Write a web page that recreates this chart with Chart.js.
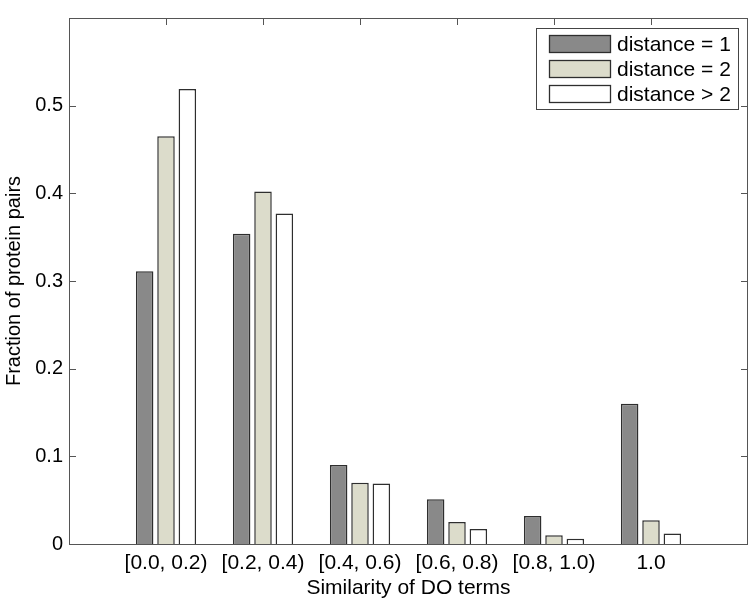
<!DOCTYPE html>
<html>
<head>
<meta charset="utf-8">
<script src="https://cdn.jsdelivr.net/npm/chart.js@4.4.1/dist/chart.umd.min.js"></script>
<style>
    html, body { margin: 0; padding: 0; background: #ffffff; }
    #wrap { width: 755px; height: 606px; }
</style>
</head>
<body>
<div id="wrap"><canvas id="simChart" width="755" height="606"></canvas></div>
<script>
// Fraction of protein pairs per DO-term similarity bin, grouped by network distance
const categories = ['[0.0, 0.2)', '[0.2, 0.4)', '[0.4, 0.6)', '[0.6, 0.8)', '[0.8, 1.0)', '1.0'];
const seriesNames = ['distance = 1', 'distance = 2', 'distance > 2'];
const dist1 = [0.311, 0.354, 0.090, 0.051, 0.032, 0.160];
const dist2 = [0.465, 0.402, 0.070, 0.025, 0.010, 0.027];
const dist3 = [0.519, 0.377, 0.069, 0.017, 0.006, 0.012];
const yTicks = [0, 0.1, 0.2, 0.3, 0.4, 0.5];

const fills = ['#898989', '#dcdccb', '#ffffff'];
const edge = '#2e2e2e';
const axisColor = '#555555';
const fontFamily = '"Liberation Sans", Arial, Helvetica, sans-serif';

// categories sit at x = 1..6 on a 0..7 axis, like a MATLAB bar plot
function toPoints(values) {
    return values.map((v, i) => ({ x: i + 1, y: v }));
}

// Frame and inward tick marks on all four sides
const matlabAxes = {
    id: 'matlabAxes',
    beforeDatasetsDraw(chart) {
        const { ctx, chartArea: a, scales } = chart;
        const len = 7;
        ctx.save();
        ctx.strokeStyle = axisColor;
        ctx.lineWidth = 1;
        ctx.beginPath();
        for (let i = 1; i <= categories.length; i++) {
            const px = Math.round(scales.x.getPixelForValue(i)) + 0.5;
            ctx.moveTo(px, a.bottom); ctx.lineTo(px, a.bottom - len);
            ctx.moveTo(px, a.top); ctx.lineTo(px, a.top + len);
        }
        yTicks.forEach(v => {
            const py = Math.round(scales.y.getPixelForValue(v)) + 0.5;
            ctx.moveTo(a.left, py); ctx.lineTo(a.left + len, py);
            ctx.moveTo(a.right, py); ctx.lineTo(a.right - len, py);
        });
        ctx.stroke();
        ctx.restore();
    },
    afterDatasetsDraw(chart) {
        const { ctx, chartArea: a } = chart;
        ctx.save();
        ctx.strokeStyle = axisColor;
        ctx.lineWidth = 1;
        ctx.strokeRect(a.left + 0.5, a.top + 0.5, a.right - a.left - 1, a.bottom - a.top);
        ctx.restore();
    }
};

// Boxed legend in the top right corner of the plot
const boxLegend = {
    id: 'boxLegend',
    afterDraw(chart) {
        const { ctx, chartArea: a } = chart;
        const w = 202, h = 81;
        const x0 = a.right - 10 - w, y0 = a.top + 10;
        ctx.save();
        ctx.fillStyle = '#ffffff';
        ctx.fillRect(x0, y0, w, h);
        ctx.strokeStyle = '#444444';
        ctx.lineWidth = 1;
        ctx.strokeRect(x0 + 0.5, y0 + 0.5, w, h);
        ctx.font = '21px ' + fontFamily;
        ctx.textBaseline = 'middle';
        ctx.textAlign = 'left';
        chart.data.datasets.forEach((ds, i) => {
            const cy = y0 + 16 + i * 25;
            ctx.fillStyle = ds.backgroundColor;
            ctx.fillRect(x0 + 13, cy - 9, 62, 18);
            ctx.strokeStyle = edge;
            ctx.lineWidth = 1.3;
            ctx.strokeRect(x0 + 13.5, cy - 8.5, 61, 17);
            ctx.fillStyle = '#000000';
            ctx.fillText(ds.label, x0 + 81, cy + 1);
        });
        ctx.restore();
    }
};

const datasets = [dist1, dist2, dist3].map((vals, i) => ({
    label: seriesNames[i],
    data: toPoints(vals),
    backgroundColor: fills[i],
    borderColor: edge,
    borderWidth: 1.5,
    categoryPercentage: 0.66,
    barPercentage: 0.82
}));

new Chart(document.getElementById('simChart').getContext('2d'), {
    type: 'bar',
    data: { datasets: datasets },
    options: {
        responsive: false,
        animation: false,
        layout: { padding: { top: 9, right: 7, left: 0, bottom: 0 } },
        plugins: {
            legend: { display: false },
            tooltip: { enabled: false }
        },
        scales: {
            x: {
                type: 'linear',
                min: 0,
                max: 7,
                offset: false,
                grid: { display: false, drawTicks: false },
                border: { display: false },
                ticks: {
                    stepSize: 1,
                    autoSkip: false,
                    maxRotation: 0,
                    padding: 7,
                    color: '#000000',
                    font: { family: fontFamily, size: 21 },
                    callback: v => categories[v - 1] || ''
                },
                title: {
                    display: true,
                    text: 'Similarity of DO terms',
                    color: '#000000',
                    font: { family: fontFamily, size: 21 },
                    padding: { top: 0, bottom: 5 }
                },
                afterFit: scale => { scale.height = 62; }
            },
            y: {
                min: 0,
                max: 0.6,
                grid: { display: false, drawTicks: false },
                border: { display: false },
                ticks: {
                    stepSize: 0.1,
                    padding: 6,
                    color: '#000000',
                    font: { family: fontFamily, size: 20 },
                    callback: v => {
                        const r = Math.round(v * 10) / 10;
                        if (r >= 0.6) return '';
                        return r === 0 ? '0' : r.toFixed(1);
                    }
                },
                title: {
                    display: true,
                    text: 'Fraction of protein pairs',
                    color: '#000000',
                    font: { family: fontFamily, size: 20 },
                    padding: { top: 2, bottom: 0 }
                },
                afterFit: scale => { scale.width = 69; }
            }
        }
    },
    plugins: [matlabAxes, boxLegend]
});
</script>
</body>
</html>
